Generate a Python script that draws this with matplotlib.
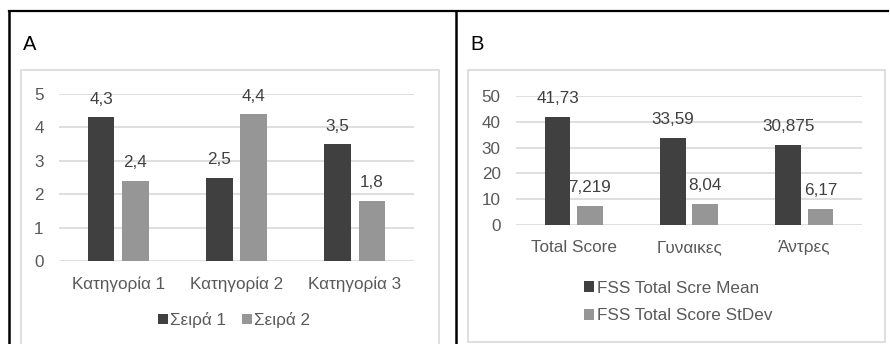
import numpy as np
import matplotlib
matplotlib.use('Agg')
import matplotlib.pyplot as plt
from matplotlib.lines import Line2D
from matplotlib.patches import Rectangle

plt.rcParams['font.family'] = ['Liberation Sans', 'DejaVu Sans']

# Γράφημα A
cat_a = ['Κατηγορία 1', 'Κατηγορία 2', 'Κατηγορία 3']
seira1 = [4.3, 2.5, 3.5]
seira2 = [2.4, 4.4, 1.8]
labels_a = ['4,3', '2,5', '3,5']
labels_a2 = ['2,4', '4,4', '1,8']

# Γράφημα B
cat_b = ['Total Score', 'Γυναικες', 'Άντρες']
fss_mean = [41.73, 33.59, 30.875]
fss_sd = [7.219, 8.04, 6.17]
labels_b = ['41,73', '33,59', '30,875']
labels_b2 = ['7,219', '8,04', '6,17']

W, H = 890, 344
DARK = '#404040'
LIGHT = '#969696'
GRID = '#d9d9d9'
TXT = '#595959'
FS = 12.3

fig = plt.figure(figsize=(W / 100, H / 100), dpi=100)


def px_axes(x0, x1, y0, y1):
    # y0 = κάτω άκρη, y1 = πάνω άκρη σε pixel από πάνω
    return fig.add_axes([x0 / W, 1 - y0 / H, (x1 - x0) / W, (y0 - y1) / H])


def fig_line(xs, ys, **kw):
    fig.add_artist(Line2D([x / W for x in xs], [1 - y / H for y in ys],
                          transform=fig.transFigure, **kw))


def fig_box(x0, y0, x1, y1):
    fig.add_artist(Rectangle((x0 / W, 1 - y1 / H), (x1 - x0) / W, (y1 - y0) / H,
                             transform=fig.transFigure, fill=False,
                             edgecolor=GRID, lw=1.2))


# πλαίσιο πίνακα
fig_line([9, 888], [11, 11], color='black', lw=1.6)
fig_line([9, 9], [11, 345], color='black', lw=1.8)
fig_line([456, 456], [11, 345], color='black', lw=1.8)

fig_box(21, 70, 439, 350)
fig_box(468, 70, 885, 342)

fig.text(23 / W, 1 - 45 / H, 'A', fontsize=14.5, va='center', ha='left', color='black')
fig.text(470 / W, 1 - 45 / H, 'B', fontsize=14.5, va='center', ha='left', color='black')


def bar_panel(ax, cats, v1, v2, l1, l2, ymax, step, width, off, lab_off, xpad):
    x = np.arange(len(cats))
    b1 = ax.bar(x - off, v1, width, color=DARK, zorder=3)
    b2 = ax.bar(x + off, v2, width, color=LIGHT, zorder=3)
    for bars, labs in ((b1, l1), (b2, l2)):
        for rect, lab in zip(bars, labs):
            ax.annotate(lab, (rect.get_x() + rect.get_width() / 2, rect.get_height()),
                        xytext=(0, lab_off), textcoords='offset pixels',
                        ha='center', va='center', fontsize=FS, color=DARK, zorder=4)
    ax.set_xlim(-0.5, len(cats) - 0.5)
    ax.set_ylim(0, ymax)
    ax.set_yticks(np.arange(0, ymax + step / 2, step))
    ax.set_xticks(x)
    ax.set_xticklabels(cats)
    ax.yaxis.grid(True, color=GRID, lw=1.2, zorder=0)
    for s in ax.spines.values():
        s.set_visible(False)
    ax.tick_params(length=0, labelsize=FS, colors=TXT)
    ax.tick_params(axis='y', pad=11)
    ax.tick_params(axis='x', pad=xpad)
    ax.set_facecolor('none')
    return b1, b2


ax_a = px_axes(59, 414, 261, 94)
ha1, ha2 = bar_panel(ax_a, cat_a, seira1, seira2, labels_a, labels_a2, 5, 1, 0.228, 0.145, 18, 11)
ax_a.legend([ha1, ha2], ['Σειρά 1', 'Σειρά 2'], loc='center', ncol=2,
            bbox_to_anchor=(234 / W, 1 - 320 / H), bbox_transform=fig.transFigure,
            frameon=False, fontsize=FS, handlelength=0.6, handleheight=0.6,
            handletextpad=0.15, columnspacing=0.9, labelcolor=TXT)

ax_b = px_axes(516, 862, 225, 96)
hb1, hb2 = bar_panel(ax_b, cat_b, fss_mean, fss_sd, labels_b, labels_b2, 50, 10, 0.22, 0.14, 19, 11)
ax_b.legend([hb1, hb2], ['FSS Total Scre Mean', 'FSS Total Score StDev'],
            loc='center left', ncol=1, borderpad=0, borderaxespad=0,
            bbox_to_anchor=(584 / W, 1 - 302 / H), bbox_transform=fig.transFigure,
            frameon=False, fontsize=FS, handlelength=0.6, handleheight=0.6,
            handletextpad=0.15, labelspacing=0.75, labelcolor=TXT)

fig.savefig('out.png', dpi=100)
